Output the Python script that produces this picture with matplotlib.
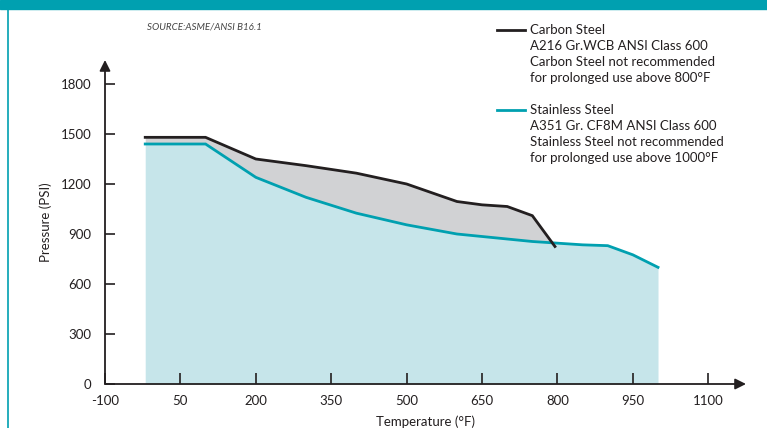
import numpy as np
import matplotlib
matplotlib.use("Agg")
import matplotlib.pyplot as plt
from matplotlib.lines import Line2D
from matplotlib.patches import Rectangle

plt.rcParams['font.family'] = ['Lato', 'DejaVu Sans']
plt.rcParams['axes.unicode_minus'] = False

# Data (ASME/ANSI B16.1, class 600)
carbon_temp = [-20, 100, 200, 300, 400, 500, 600, 650, 700, 750, 795]
carbon_psi = [1480, 1480, 1350, 1310, 1265, 1200, 1095, 1075, 1065, 1010, 825]
stainless_temp = [-20, 100, 200, 300, 400, 500, 600, 650, 700, 750, 800, 850, 900, 950, 1000]
stainless_psi = [1440, 1440, 1240, 1120, 1025, 955, 900, 885, 870, 855, 845, 835, 830, 775, 700]
x_ticks = [-100, 50, 200, 350, 500, 650, 800, 950, 1100]
y_ticks = [0, 300, 600, 900, 1200, 1500, 1800]

carbon_legend = ["Carbon Steel", "A216 Gr.WCB ANSI Class 600",
                 "Carbon Steel not recommended", "for prolonged use above 800°F"]
stainless_legend = ["Stainless Steel", "A351 Gr. CF8M ANSI Class 600",
                    "Stainless Steel not recommended", "for prolonged use above 1000°F"]

TEAL = '#00A0B0'
DARK = '#231F20'
W, H = 767, 428

fig = plt.figure(figsize=(W / 100, H / 100), dpi=100)
ax = fig.add_axes([105 / W, (H - 384) / H, (746 - 105) / W, 324 / H])
ax.set_xlim(-100, 1175)
ax.set_ylim(0, 1944)

# fills
st_on_carbon = np.interp(carbon_temp, stainless_temp, stainless_psi)
ax.fill_between(stainless_temp, 0, stainless_psi, color='#C6E5EA', lw=0, zorder=1)
ax.fill_between(carbon_temp, st_on_carbon, carbon_psi, color='#D1D2D4', lw=0, zorder=1)
ax.plot(stainless_temp, stainless_psi, color=TEAL, lw=2, zorder=3, solid_joinstyle='miter')
ax.plot(carbon_temp, carbon_psi, color=DARK, lw=2, zorder=4, solid_joinstyle='miter')

# axes styling
for s in ax.spines.values():
    s.set_visible(False)
ax.set_xticks(x_ticks)
ax.set_yticks(y_ticks)
ax.tick_params(axis='x', direction='in', length=8, width=1.2, color=DARK,
               labelsize=9.5, pad=8, labelcolor=DARK)
ax.tick_params(axis='y', direction='in', length=7, width=1.2, color=DARK,
               labelsize=9.5, pad=10, labelcolor=DARK)
ax.annotate('', xy=(1, 0), xytext=(0, 0), xycoords='axes fraction',
            arrowprops=dict(arrowstyle='-|>', color=DARK, lw=1.3, mutation_scale=16,
                            shrinkA=0, shrinkB=0))
ax.annotate('', xy=(0, 1), xytext=(0, 0), xycoords='axes fraction',
            arrowprops=dict(arrowstyle='-|>', color=DARK, lw=1.3, mutation_scale=16,
                            shrinkA=0, shrinkB=0))
ax.set_xlabel('Temperature (°F)', fontsize=9.5, color=DARK, labelpad=6)
ax.set_ylabel('Pressure (PSI)', fontsize=9.5, color=DARK, labelpad=0)
ax.yaxis.set_label_coords(-53 / (746 - 105), 0.5)

# banner and left border
fig.patches.append(Rectangle((0, 1 - 9 / H), 1, 9 / H, transform=fig.transFigure,
                             color=TEAL, zorder=0))
fig.lines.append(Line2D([8 / W, 8 / W], [0, 1 - 9 / H], transform=fig.transFigure,
                        color=TEAL, lw=1.2))

fig.text(147 / W, 1 - 27 / H, 'SOURCE:ASME/ANSI B16.1', fontsize=7, style='italic',
         color='#444444', va='center')

# legend block
def legend_block(y0, color, lines):
    fig.lines.append(Line2D([497 / W, 525 / W], [1 - y0 / H, 1 - y0 / H],
                            transform=fig.transFigure, color=color, lw=2))
    for i, t in enumerate(lines):
        fig.text(530 / W, 1 - (y0 + 16 * i) / H, t, fontsize=9.5, color=DARK, va='center')

legend_block(30, DARK, carbon_legend)
legend_block(110, TEAL, stainless_legend)

fig.savefig('out.png', dpi=100)
